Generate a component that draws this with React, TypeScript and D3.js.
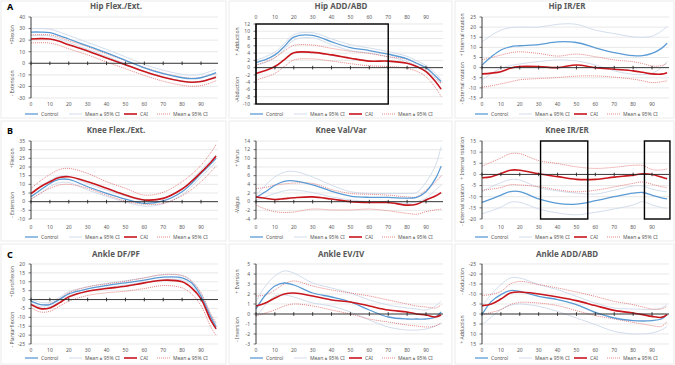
import * as d3 from "d3";

// shared sample points (% of movement cycle)
const X = [0, 5, 10, 15, 20, 30, 40, 50, 60, 70, 80, 85, 90, 95, 98];
const xTicks = [0, 10, 20, 30, 40, 50, 60, 70, 80, 90];

// A - hip
const hipFlexControl = [27, 27, 26.5, 24, 21, 15, 9, 2.6, -4, -9, -12.5, -13.3, -12.5, -10, -8];
const hipFlexControlUp = [30, 30, 29.5, 27, 24, 18, 12, 5.6, -1, -6, -9.5, -10.3, -9.5, -7, -5.5];
const hipFlexControlLow = [24, 24, 23.5, 21, 18, 12, 6, -0.4, -7, -12, -15.5, -16.3, -15.5, -13, -11];
const hipFlexCai = [21, 21.3, 21, 19, 16, 10.7, 4.6, -1.2, -7, -12, -15.5, -16.4, -15.8, -13.5, -12];
const hipFlexCaiUp = [24.5, 24.8, 24.5, 22.5, 19.5, 14.2, 8.1, 2.3, -3.5, -8.5, -12, -12.9, -12.3, -10, -9];
const hipFlexCaiLow = [17.5, 17.8, 17.5, 15.5, 12.5, 7.2, 1.1, -4.7, -10.5, -15.5, -19, -19.9, -19.3, -17, -15];
const hipFlexTicks = [-30, -20, -10, 0, 10, 20, 30, 40];

const hipAddControl = [1.4, 2.2, 3.5, 5.8, 8.4, 8.9, 7.1, 5.5, 4.7, 3.7, 2.4, 1.2, 0, -2.3, -3.8];
const hipAddControlUp = [2.1, 3, 4.3, 6.6, 9.1, 9.6, 7.9, 6.3, 5.4, 4.4, 3.1, 1.9, 0.6, -1.6, -3.2];
const hipAddControlLow = [0.7, 1.4, 2.7, 5, 7.6, 8.2, 6.3, 4.7, 4, 3, 1.7, 0.5, -0.8, -3, -4.5];
const hipAddCai = [-1.6, -0.8, 0.3, 2.2, 4.1, 4.2, 3.5, 2.6, 1.8, 1.8, 1.2, 0.3, -1.1, -3.8, -5.9];
const hipAddCaiUp = [0.7, 1.6, 2.8, 4.6, 6.1, 6.2, 5.3, 4.5, 3.9, 3, 2.3, 1.2, -0.2, -2.5, -4.3];
const hipAddCaiLow = [-3.4, -2.6, -1.6, 0.3, 2.1, 2.4, 1.8, 1.1, 0.5, 0.3, -0.2, -1, -2.5, -5.5, -7.9];
const hipAddTicks = [-10, -8, -6, -4, -2, 0, 2, 4, 6, 8, 10, 12];

const hipRotControl = [1.3, 5.4, 8.7, 10.3, 10.8, 11.4, 12.7, 12.4, 9.8, 7.4, 5.9, 5.9, 7, 9.5, 12];
const hipRotControlUp = [12.7, 16, 18.5, 19.7, 20, 20, 21.4, 21.4, 18.5, 16.8, 15.2, 15, 15.5, 18, 20.5];
const hipRotControlLow = [-6, -3, -0.3, 1, 1.8, 3, 3.8, 3.3, 1.3, -1.6, -3.3, -3.5, -2.8, 0, 3];
const hipRotCai = [-3.1, -2.7, -2, -0.3, 0.5, 0.5, 0, 1.3, 0, -0.8, -1.6, -2.3, -3.1, -3.2, -2.5];
const hipRotCaiUp = [3.8, 5, 6.2, 7.3, 7.8, 7, 5.7, 6.7, 5.4, 3.8, 2.9, 2, 0.8, 1, 2.1];
const hipRotCaiLow = [-9.6, -9, -8, -7, -6, -5.4, -4.9, -4.2, -4.1, -4.7, -5.7, -6.5, -7.4, -7, -6.5];
const hipRotTicks = [-15, -10, -5, 0, 5, 10, 15, 20, 25];

// B - knee
const kneeFlexControl = [2.9, 6.7, 10.5, 12.8, 12.8, 8.6, 4.8, 1.5, -1, 0.4, 5.7, 10.5, 16.3, 21.5, 25];
const kneeFlexControlUp = [4.5, 8.5, 12.3, 14.6, 14.6, 10.4, 6.6, 3.2, 0.6, 2, 7.4, 12.3, 18.2, 23.5, 27];
const kneeFlexControlLow = [1.3, 4.9, 8.7, 11, 11, 6.8, 3, -0.2, -2.6, -1.2, 4, 8.7, 14.4, 19.5, 23];
const kneeFlexCai = [4.6, 8.6, 11.5, 13.9, 14.4, 11.5, 7.7, 3.8, 1, 1.9, 7.3, 11.7, 16.9, 22.5, 26.4];
const kneeFlexCaiUp = [7.7, 12, 15.7, 18.5, 19.2, 16.3, 11.5, 7.7, 3.8, 5.4, 11.5, 15.8, 21, 28, 33];
const kneeFlexCaiLow = [1.5, 4.8, 7.7, 9.6, 10, 7.7, 3.8, 0.4, -1.5, -1, 3.4, 7, 11.5, 17, 20.7];
const kneeFlexTicks = [-10, -5, 0, 5, 10, 15, 20, 25, 30, 35];

const kneeVarControl = [1, 2.3, 3.8, 4.7, 4.8, 3.9, 2.4, 1.3, 1, 1, 0.8, 1, 2.3, 5.3, 8.2];
const kneeVarControlUp = [1.5, 3.8, 5.7, 6.8, 7, 5.7, 3.8, 2.3, 1.9, 1.9, 1.9, 2.1, 4.5, 8.3, 12.7];
const kneeVarControlLow = [0.4, 1.1, 1.9, 2.5, 2.7, 2.1, 1.1, 0.4, 0, 0, -0.4, 0, 0.8, 2.7, 3.8];
const kneeVarCai = [1.1, 0.8, 0.5, 0.7, 0.9, 1.1, 0.6, 0, -0.2, -0.2, -0.8, -0.6, 0.4, 1.3, 2.1];
const kneeVarCaiUp = [3, 3.3, 3.8, 4.1, 4.3, 4.2, 2.8, 1.9, 1.7, 1.5, 1.1, 1.1, 2.7, 4.5, 6];
const kneeVarCaiLow = [-0.8, -1.7, -2.3, -2.5, -2.4, -1.7, -1.9, -1.9, -1.7, -2.1, -2.7, -2.9, -2.3, -1.9, -1.7];
const kneeVarTicks = [-4, -2, 0, 2, 4, 6, 8, 10, 12, 14];

const kneeRotControl = [-12.5, -11, -9.3, -7.7, -7.7, -11, -13, -13.3, -11.8, -10, -8.4, -8.1, -9.3, -10.5, -11];
const kneeRotControlUp = [-7.8, -5.5, -3.7, -2.3, -2.5, -5.9, -7.4, -8.4, -8.8, -7.1, -5.2, -5.2, -6.6, -7.5, -7.8];
const kneeRotControlLow = [-17.7, -16.3, -14.7, -12.5, -12.5, -15.5, -17.3, -18.1, -17, -15.5, -13.7, -12.2, -13.7, -14.8, -15.2];
const kneeRotCai = [-1.5, -1, 0.4, 1.9, 1.9, 0.3, -1, -2.2, -2.2, -1.2, -0.3, 0.3, 0, -1.2, -1.9];
const kneeRotCaiUp = [3.7, 5.5, 7.4, 9.3, 9.3, 6.2, 4.9, 3.4, 2.7, 3.2, 4.1, 4, 2.2, 2, 2.5];
const kneeRotCaiLow = [-7.1, -6.6, -5.9, -4.6, -4.7, -5.5, -6.9, -7.8, -7.1, -5.6, -4, -3.4, -4.4, -5.5, -5.9];
const kneeRotTicks = [-20, -15, -10, -5, 0, 5, 10, 15];

// C - ankle
const ankleDfControl = [-0.9, -2.8, -2.8, 0, 3.2, 6, 7.9, 9.4, 10.9, 12.6, 12.2, 9.4, 1.9, -9.4, -15.4];
const ankleDfControlUp = [0.3, -1.6, -1.6, 1.2, 4.4, 7.2, 9.1, 10.6, 12.2, 13.9, 13.5, 10.7, 3.2, -8, -14];
const ankleDfControlLow = [-2.1, -4, -4, -1.2, 2, 4.8, 6.7, 8.2, 9.6, 11.3, 10.9, 8.1, 0.6, -10.8, -16.8];
const ankleDfCai = [-2.8, -5.1, -4.7, -1.9, 1.5, 4.7, 6.2, 7.5, 9.4, 10.9, 10, 6.6, 0.4, -11.3, -16.5];
const ankleDfCaiUp = [-0.9, -2.8, -2.4, 0.4, 3.8, 7.1, 8.8, 10.3, 12.2, 14.1, 13.5, 10.3, 3.8, -7.9, -13.2];
const ankleDfCaiLow = [-4.7, -7, -6.6, -3.8, -0.9, 2.3, 3.8, 4.7, 6.2, 7.9, 6.6, 3.2, -3.4, -15, -20.3];
const ankleDfTicks = [-25, -20, -15, -10, -5, 0, 5, 10, 15, 20];

const ankleEvControl = [0.5, 1.9, 2.8, 3.1, 2.9, 2.1, 1.7, 1.2, 0.4, -0.3, -0.5, -0.5, -0.5, -0.3, 0.2];
const ankleEvControlUp = [1.3, 2.8, 3.8, 4.3, 4.1, 3.1, 2.6, 2.1, 1.4, 0.9, 0.6, 0.5, 0.4, 0.8, 1.3];
const ankleEvControlLow = [-0.3, 0.9, 1.8, 1.9, 1.7, 1.1, 0.8, 0.2, -0.6, -1.3, -1.6, -1.6, -1.5, -1.2, -0.9];
const ankleEvCai = [0.8, 1.1, 1.6, 2, 2.1, 1.8, 1.4, 1.2, 0.8, 0.4, 0.2, 0, -0.1, -0.3, -0.1];
const ankleEvCaiUp = [1.8, 1.9, 2.4, 3, 3.3, 2.8, 2.4, 2.1, 1.8, 1.4, 1, 0.8, 0.7, 0.6, 0.9];
const ankleEvCaiLow = [-0.2, 0.1, 0.4, 0.8, 1, 0.8, 0.4, 0, -0.5, -0.8, -1.1, -1.2, -1.3, -1.2, -0.9];
const ankleEvTicks = [-3, -2, -1, 0, 1, 2, 3, 4, 5];

const ankleAddControl = [0.3, -6.3, -9.7, -11.7, -11.3, -8.8, -7.2, -4.7, -0.8, 2, 3.3, 3.5, 3.3, 2.5, 0.3];
const ankleAddControlUp = [-3.8, -10, -14.7, -18, -18, -14.7, -12.2, -8.8, -5.5, -3, -2.5, -2.3, -2.2, -3, -4.7];
const ankleAddControlLow = [5.3, 1.5, -2.2, -4.3, -5, -3.8, -1.3, 2, 5.3, 8.7, 10, 10, 9.5, 8, 6.2];
const ankleAddCai = [-4.2, -5, -7.5, -10.5, -11, -10, -8.5, -6.7, -4.2, -1.8, -0.5, 0.3, 1.2, 1.7, 0.3];
const ankleAddCaiUp = [-9.2, -9.8, -11.3, -15, -16.3, -14.7, -13, -11, -8.8, -6.3, -4.7, -3.5, -2.5, -2.5, -3.8];
const ankleAddCaiLow = [0.3, -0.8, -2.2, -4.7, -5.8, -5.5, -4.2, -1.7, 0.8, 2.5, 4.2, 5, 5.8, 6.2, 3.7];
const ankleAddTicks = [-25, -20, -15, -10, -5, 0, 5, 10, 15];

const legendLabels = ["Control", "Mean ± 95% CI", "CAI", "Mean ± 95% CI"];

const BLUE = "#5b9bd5";
const BLUE_CI = "#cdd9ea";
const RED = "#c8161d";
const RED_CI = "#e06666";
const TXT = "#595959";
const FONT = "'Noto Sans', 'Liberation Sans', sans-serif";

type Box = [number, number]; // x-range in % cycle

type PanelDef = {
  title: string;
  col: number;
  top: number;
  bottom: number;
  ticks: number[];
  reversed?: boolean;
  xTop?: boolean;
  xLabelY: number;
  legendY: number;
  titleY: number;
  posLabel: string;
  negLabel: string;
  series: number[][];
  boxes?: Box[];
};

const colX = [0, 225, 450];
const colLeft = [31, 256, 482];

const panels: PanelDef[] = [
  { title: "Hip Flex./Ext.", col: 0, top: 17, bottom: 98, ticks: hipFlexTicks, xLabelY: 106, legendY: 114, titleY: 9,
    posLabel: "+Flexion", negLabel: "- Extension",
    series: [hipFlexControlUp, hipFlexControlLow, hipFlexCaiUp, hipFlexCaiLow, hipFlexControl, hipFlexCai] },
  { title: "Hip ADD/ABD", col: 1, top: 24, bottom: 104, ticks: hipAddTicks, xTop: true, xLabelY: 19, legendY: 114, titleY: 9,
    posLabel: "+ Adduction", negLabel: "-Abduction",
    series: [hipAddControlUp, hipAddControlLow, hipAddCaiUp, hipAddCaiLow, hipAddControl, hipAddCai],
    boxes: [[0, 70]] },
  { title: "Hip IR/ER", col: 2, top: 17, bottom: 98, ticks: hipRotTicks, xLabelY: 106, legendY: 114, titleY: 9,
    posLabel: "+ Internal rotation", negLabel: "- External rotation",
    series: [hipRotControlUp, hipRotControlLow, hipRotCaiUp, hipRotCaiLow, hipRotControl, hipRotCai] },
  { title: "Knee Flex./Ext.", col: 0, top: 141, bottom: 219, ticks: kneeFlexTicks, xLabelY: 229, legendY: 237, titleY: 133,
    posLabel: "+Flexion", negLabel: "- Extension",
    series: [kneeFlexControlUp, kneeFlexControlLow, kneeFlexCaiUp, kneeFlexCaiLow, kneeFlexControl, kneeFlexCai] },
  { title: "Knee Val/Var", col: 1, top: 141, bottom: 219, ticks: kneeVarTicks, xLabelY: 229, legendY: 237, titleY: 133,
    posLabel: "+ Varus", negLabel: "-Valgus",
    series: [kneeVarControlUp, kneeVarControlLow, kneeVarCaiUp, kneeVarCaiLow, kneeVarControl, kneeVarCai] },
  { title: "Knee IR/ER", col: 2, top: 141, bottom: 219, ticks: kneeRotTicks, xLabelY: 229, legendY: 237, titleY: 133,
    posLabel: "+ Internal rotation", negLabel: "- External rotation",
    series: [kneeRotControlUp, kneeRotControlLow, kneeRotCaiUp, kneeRotCaiLow, kneeRotControl, kneeRotCai],
    boxes: [[31, 56], [86, 99.5]] },
  { title: "Ankle DF/PF", col: 0, top: 264, bottom: 344, ticks: ankleDfTicks, xLabelY: 352, legendY: 358, titleY: 257,
    posLabel: "+Dorsiflexion", negLabel: "- Plantarflexion",
    series: [ankleDfControlUp, ankleDfControlLow, ankleDfCaiUp, ankleDfCaiLow, ankleDfControl, ankleDfCai] },
  { title: "Ankle EV/IV", col: 1, top: 264, bottom: 344, ticks: ankleEvTicks, xLabelY: 352, legendY: 358, titleY: 257,
    posLabel: "+ Eversion", negLabel: "- Inversion",
    series: [ankleEvControlUp, ankleEvControlLow, ankleEvCaiUp, ankleEvCaiLow, ankleEvControl, ankleEvCai] },
  { title: "Ankle ADD/ABD", col: 2, top: 264, bottom: 344, ticks: ankleAddTicks, reversed: true, xLabelY: 352, legendY: 358, titleY: 257,
    posLabel: "- Abduction", negLabel: "+ Adduction",
    series: [ankleAddControlUp, ankleAddControlLow, ankleAddCaiUp, ankleAddCaiLow, ankleAddControl, ankleAddCai] },
];

// style per series slot: control CI x2, CAI CI x2, control mean, CAI mean
const seriesStyle = [
  { stroke: BLUE_CI, width: 0.9, dash: "" },
  { stroke: BLUE_CI, width: 0.9, dash: "" },
  { stroke: RED_CI, width: 0.8, dash: "1,1" },
  { stroke: RED_CI, width: 0.8, dash: "1,1" },
  { stroke: BLUE, width: 1.3, dash: "" },
  { stroke: RED, width: 1.6, dash: "" },
];

function Panel({ p }: { p: PanelDef }) {
  const left = colLeft[p.col];
  const ox = colX[p.col];
  const x = d3.scaleLinear().domain([0, 90]).range([left, left + 170]);
  const lo = p.ticks[0];
  const hi = p.ticks[p.ticks.length - 1];
  const y = d3.scaleLinear().domain(p.reversed ? [hi, lo] : [lo, hi]).range([p.bottom, p.top]);
  const right = x(99);
  const line = d3
    .line<number>()
    .x((_, i) => x(X[i]))
    .y((v) => y(v))
    .curve(d3.curveCatmullRom.alpha(0.5));
  const y0 = y(0);
  const h = p.bottom - p.top;

  return (
    <g>
      {p.ticks.map((t) => (
        <g key={t}>
          <line x1={left} x2={right} y1={y(t)} y2={y(t)} stroke="#d9d9d9" strokeWidth={0.6} />
          <line x1={left - 2.5} x2={left} y1={y(t)} y2={y(t)} stroke="#404040" strokeWidth={0.7} />
          <text x={left - 6} y={y(t) + 1.8} fontSize={5} fill={TXT} textAnchor="end">
            {t}
          </text>
        </g>
      ))}
      {xTicks.map((t) => (
        <text key={t} x={x(t)} y={p.xLabelY} fontSize={5} fill={TXT} textAnchor="middle">
          {t}
        </text>
      ))}
      <text
        transform={`translate(${ox + 14},${p.top + h * 0.22}) rotate(-90)`}
        fontSize={5}
        fill={TXT}
        textAnchor="middle"
      >
        {p.posLabel}
      </text>
      <text
        transform={`translate(${ox + 14},${p.top + h * 0.82}) rotate(-90)`}
        fontSize={5}
        fill={TXT}
        textAnchor="middle"
      >
        {p.negLabel}
      </text>
      {p.series.map((s, i) => (
        <path
          key={i}
          d={line(s) ?? ""}
          fill="none"
          stroke={seriesStyle[i].stroke}
          strokeWidth={seriesStyle[i].width}
          strokeDasharray={seriesStyle[i].dash || undefined}
        />
      ))}
      <line x1={left} x2={right} y1={y0} y2={y0} stroke="#262626" strokeWidth={0.9} />
      {xTicks.map((t) => (
        <line key={t} x1={x(t)} x2={x(t)} y1={y0 - 1.8} y2={y0 + 1.8} stroke="#262626" strokeWidth={0.9} />
      ))}
      <line x1={left} x2={left} y1={p.top} y2={p.bottom} stroke="#262626" strokeWidth={0.9} />
      {(p.boxes ?? []).map(([a, b], i) => (
        <rect
          key={i}
          x={x(a)}
          y={p.top}
          width={x(b) - x(a)}
          height={h}
          fill="none"
          stroke="#000"
          strokeWidth={1.4}
        />
      ))}
      <text x={left + 85} y={p.titleY} fontSize={8} fontWeight="bold" fill={TXT} textAnchor="middle">
        {p.title}
      </text>
      <Legend ox={ox} y={p.legendY} />
    </g>
  );
}

function Legend({ ox, y }: { ox: number; y: number }) {
  const items = [
    { x: 25, style: seriesStyle[4] },
    { x: 69, style: seriesStyle[0] },
    { x: 124, style: seriesStyle[5] },
    { x: 157, style: seriesStyle[2] },
  ];
  return (
    <g>
      {items.map((it, i) => (
        <g key={i}>
          <line
            x1={ox + it.x}
            x2={ox + it.x + 13}
            y1={y}
            y2={y}
            stroke={it.style.stroke}
            strokeWidth={it.style.width}
            strokeDasharray={it.style.dash || undefined}
          />
          <text x={ox + it.x + 16} y={y + 1.8} fontSize={5} fill={TXT}>
            {legendLabels[i]}
          </text>
        </g>
      ))}
    </g>
  );
}

const frameCols: [number, number][] = [[1, 226], [229, 452], [455, 674]];
const frameRows: [number, number][] = [[1, 118], [121, 241], [244, 364]];
const rowLetters = [
  { t: "A", y: 10 },
  { t: "B", y: 134 },
  { t: "C", y: 258 },
];

export default function App() {
  return (
    <svg
      width={675}
      height={365}
      style={{ position: "absolute", left: 0, top: 0, background: "#fff", fontFamily: FONT }}
    >
      <rect width={675} height={365} fill="#fff" />
      {frameRows.map(([y1, y2], r) =>
        frameCols.map(([x1, x2], c) => (
          <rect key={`${r}-${c}`} x={x1} y={y1} width={x2 - x1} height={y2 - y1} fill="none" stroke="#e6e6e6" strokeWidth={0.8} />
        ))
      )}
      {panels.map((p) => (
        <Panel key={p.title} p={p} />
      ))}
      {rowLetters.map((l) => (
        <text key={l.t} x={7} y={l.y} fontSize={9} fontWeight="bold" fill="#000">
          {l.t}
        </text>
      ))}
    </svg>
  );
}
